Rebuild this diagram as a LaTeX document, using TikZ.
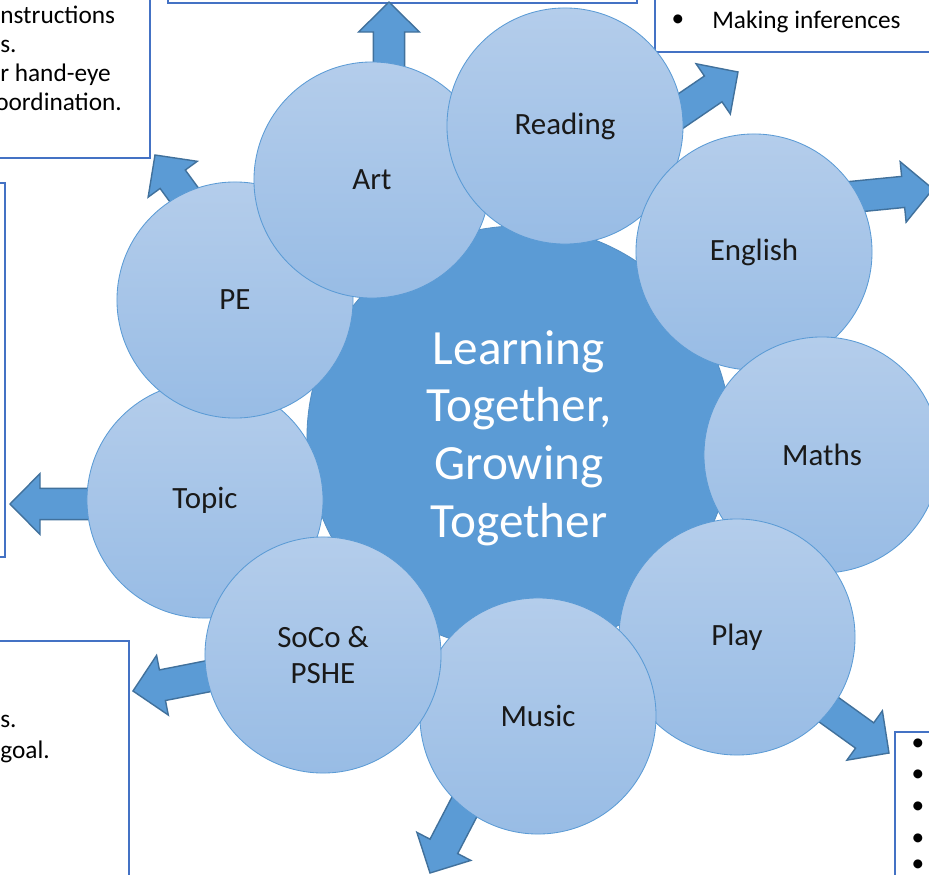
\documentclass[tikz,border=0pt]{standalone}
\usepackage{fontspec}
\setmainfont{Carlito}
\usetikzlibrary{calc}
\definecolor{accent}{RGB}{91,155,213}
\definecolor{accentdark}{RGB}{65,113,156}
\definecolor{boxline}{RGB}{68,114,196}
\definecolor{bubbletop}{RGB}{180,205,235}
\definecolor{bubblebot}{RGB}{152,188,229}
\tikzset{
  bubble/.style={circle,minimum size=5.9cm,inner sep=0pt,draw=accent,line width=.6pt,
    top color=bubbletop,bottom color=bubblebot,align=center,text=black!90,
    font=\fontsize{22}{26}\selectfont},
  hub/.style={circle,minimum size=10.6cm,inner sep=0pt,fill=accent,draw=accent!92!black,
    line width=.6pt,text=white,align=center,font=\fontsize{35}{41}\selectfont},
  infobox/.style={draw=boxline,line width=1.5pt,fill=white},
  boxtext/.style={anchor=base west,inner sep=0pt,font=\fontsize{18}{22}\selectfont},
  dot/.style={inner sep=0pt,font=\fontsize{18}{22}\selectfont},
  arrowblock/.style={fill=accent,draw=accentdark,line width=1pt,line join=miter}
}
\newcommand{\blockarrow}[2]{%
  \coordinate (hb) at ($(#2)!0.75cm!(#1)$);
  \path[arrowblock] ($(#1)!0.39cm!90:(#2)$) -- ($(hb)!0.39cm!90:(#2)$)
    -- ($(hb)!0.76cm!90:(#2)$) -- (#2) -- ($(hb)!0.76cm!-90:(#2)$)
    -- ($(hb)!0.39cm!-90:(#2)$) -- ($(#1)!0.39cm!-90:(#2)$) -- cycle;
}
\begin{document}
\begin{tikzpicture}[x=0.025cm,y=-0.025cm]
  \useasboundingbox (0,0) rectangle (929,875);
  \clip (0,0) rectangle (929,875);
  % boxes round the edge
  \draw[infobox] (-20,-20) rectangle (150,158);
  \draw[infobox] (168,-20) rectangle (637,3);
  \draw[infobox] (655,-20) rectangle (950,52);
  \draw[infobox] (-20,183) rectangle (5,557);
  \draw[infobox] (-20,641) rectangle (129,900);
  \draw[infobox] (895,732) rectangle (950,900);
  \foreach \n/\x/\y/\t in{tla/0/23/nstructions, tlb/0/52/s., tlc/0/81/r hand-eye,
      tld/-5/110/oordination., tra/712/28/Making inferences, bla/0/727/s., blb/0/758/goal.}{%
    \node[boxtext] (\n) at (\x,\y) {\t};
  }
  \node[dot] (trdot) at (678,21) {•};
  \foreach \i/\y in{1/745, 2/776, 3/808, 4/840, 5/866}{%
    \node[dot] (brdot\i) at (918,\y) {•};
  }
  % arrows
  \foreach \n/\ax/\ay/\bx/\by in{art/389/120/389/2, reading/647/134/738/72,
      english/790/203/933/189, pe/220/244/155/155, topic/130/504/10/504,
      soco/260/666/133/691, music/481/775/430/873, play/800/689/889/753}{%
    \coordinate (\n-tail) at (\ax,\ay);
    \coordinate (\n-tip) at (\bx,\by);
    \blockarrow{\n-tail}{\n-tip}
  }
  \node[hub] (hub) at (519,438) {Learning\\Together,\\Growing\\Together};
  \foreach \n/\x/\y/\t in{topic/205/500/Topic, pe/235/300/PE, art/372/180/Art,
      reading/565/126/Reading, english/754/252/English, maths/822/455/Maths,
      play/737/637/Play, music/538/716/Music, soco/323/655/{SoCo \&\\PSHE}}{%
    \node[bubble] (\n) at (\x,\y) {\t};
  }
\end{tikzpicture}
\end{document}
